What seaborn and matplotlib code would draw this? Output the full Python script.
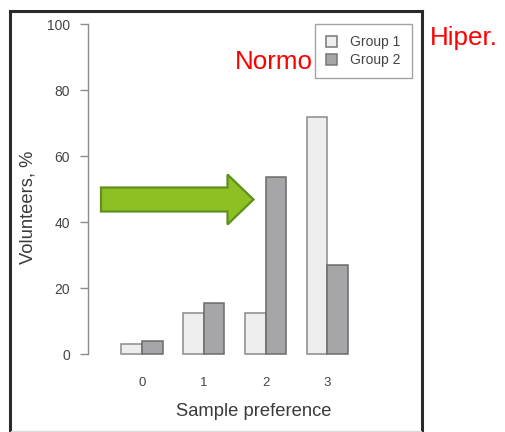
import matplotlib
matplotlib.use("Agg")
import matplotlib.pyplot as plt
from matplotlib.lines import Line2D
from matplotlib.patches import Polygon
import pandas as pd
import seaborn as sns

# Data
preferences = ["0", "1", "2", "3"]
group_names = ["Group 1", "Group 2"]
group1 = [3.0, 12.5, 12.5, 71.9]
group2 = [3.8, 15.4, 53.8, 26.9]
y_ticks = [0, 20, 40, 60, 80, 100]

df = pd.DataFrame({
    "pref": preferences * 2,
    "group": [group_names[0]] * 4 + [group_names[1]] * 4,
    "value": group1 + group2,
})

sns.set_theme(style="white")
plt.rcParams["font.family"] = ["Liberation Sans", "DejaVu Sans"]

W, H = 505, 432
fig = plt.figure(figsize=(W / 100, H / 100), dpi=100)
fig.patch.set_facecolor("white")


def fx(x):
    return x / W


def fy(y):
    return 1 - y / H


# plot region in pixels
left, right, top, bottom = 88, 420, 11.3, 367.2
ax = fig.add_axes([fx(left), fy(bottom), (right - left) / W, (bottom - top) / H])
ax.set_facecolor("white")

fill_colors = ["#eeeeee", "#a6a6a9"]
edge_colors = ["#8a8a8a", "#6b6b6b"]

sns.barplot(data=df, x="pref", y="value", hue="group", order=preferences,
            hue_order=group_names, palette=fill_colors, saturation=1,
            width=2 / 3, linewidth=1.1, edgecolor="#777777", ax=ax)

for cont, ec in zip(ax.containers, edge_colors):
    for bar in cont:
        bar.set_edgecolor(ec)

ax.set_xlim(-0.874, 4.497)
ax.set_ylim(-4, 104)

for s in ["top", "right", "bottom"]:
    ax.spines[s].set_visible(False)
ax.spines["left"].set_bounds(0, 100)
ax.spines["left"].set_color("#8c8c8c")
ax.spines["left"].set_linewidth(1.0)

ax.set_yticks(y_ticks)
ax.set_yticklabels([str(t) for t in y_ticks])
ax.tick_params(axis="y", left=True, length=5.8, width=1.0, color="#8c8c8c",
               pad=7.2, labelsize=10, labelcolor="#444444")
ax.tick_params(axis="x", bottom=False, length=0, pad=7.2, labelsize=9.5,
               labelcolor="#444444")

ax.set_xlabel("Sample preference", fontsize=13.2, color="#3a3a3a")
ax.set_ylabel("Volunteers, %", fontsize=13.2, color="#3a3a3a")
ax.xaxis.set_label_coords(0.5, -0.10)
ax.yaxis.set_label_coords(-0.154, 0.45)

handles, labels = ax.get_legend_handles_labels()
leg = ax.legend(handles, labels, loc="upper right",
                bbox_to_anchor=(fx(412), fy(24)), bbox_transform=fig.transFigure,
                fontsize=10, frameon=True, fancybox=False, edgecolor="#8c8c8c",
                handlelength=0.8, handleheight=0.8, handletextpad=0.95,
                borderpad=0.8, labelspacing=0.3, borderaxespad=0)
leg.get_frame().set_linewidth(1.0)
for t in leg.get_texts():
    t.set_color("#444444")

# slide frame around the chart
frame_kw = dict(color="#2a2a2a", linewidth=2.2, transform=fig.transFigure,
                solid_capstyle="projecting")
fig.add_artist(Line2D([fx(9.5), fx(9.5)], [fy(10.5), fy(440)], **frame_kw))
fig.add_artist(Line2D([fx(422), fx(422)], [fy(10.5), fy(440)], **frame_kw))
fig.add_artist(Line2D([fx(9.5), fx(422)], [fy(10.5), fy(10.5)], **frame_kw))
fig.add_artist(Line2D([fx(11), fx(420.5)], [fy(431), fy(431)], color="#dcdcdc",
                      linewidth=1.0, transform=fig.transFigure))

# green pointer arrow
arrow_px = [(101, 187.5), (227.5, 187.5), (227.5, 174.5), (253.5, 199.5),
            (227.5, 224.5), (227.5, 211.5), (101, 211.5)]
fig.add_artist(Polygon([(fx(x), fy(y)) for x, y in arrow_px], closed=True,
                       facecolor="#8cc023", edgecolor="#5f8f1c", linewidth=1.6,
                       joinstyle="miter", transform=fig.transFigure))

# group annotations
fig.text(fx(235), fy(69), "Normo", color="#ff0000", fontsize=18.7, va="baseline")
fig.text(fx(430), fy(45), "Hiper.", color="#ff0000", fontsize=18.7, va="baseline")

fig.savefig("out.png", dpi=100, facecolor="white")
